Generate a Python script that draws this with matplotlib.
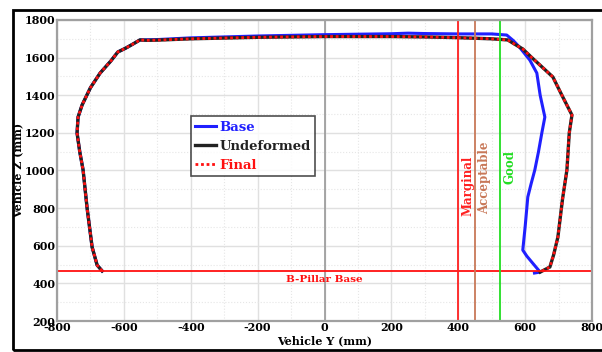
import matplotlib
matplotlib.use("Agg")
import matplotlib.pyplot as plt
from matplotlib.patches import Rectangle
from matplotlib.ticker import MultipleLocator

plt.rcParams['font.family'] = ['DejaVu Serif']
plt.rcParams['font.weight'] = 'bold'
plt.rcParams['axes.labelweight'] = 'bold'
plt.rcParams['axes.unicode_minus'] = False

# roof / pillar profile, undeformed
undeformed_y = [-665, -680, -695, -710, -722, -732, -740, -737, -725, -700, -671, -640, -618, -595,
                -575, -552, -530, -500, -400, -200, 0, 200, 300, 400, 500, 548, 570, 593, 620, 644,
                683, 710, 740, 732, 725, 712, 698, 685, 674, 645]
undeformed_z = [466, 497, 593, 800, 1003, 1100, 1199, 1284, 1348, 1440, 1518, 1580, 1630, 1650,
                1670, 1694, 1692, 1693, 1700, 1708, 1712, 1712, 1710, 1706, 1700, 1694, 1670, 1646, 1600, 1561,
                1497, 1400, 1295, 1200, 1003, 850, 646, 550, 487, 460]

# final overlaps undeformed
final_y = [-665, -680, -695, -710, -722, -732, -740, -737, -725, -700, -671, -640, -618, -595,
           -575, -552, -530, -500, -400, -200, 0, 200, 300, 400, 500, 548, 570, 593, 620, 644,
           683, 710, 740, 732, 725, 712, 698, 685, 674, 645]
final_z = [466, 497, 593, 800, 1003, 1100, 1199, 1284, 1348, 1440, 1518, 1580, 1630, 1650,
           1670, 1694, 1692, 1693, 1700, 1708, 1712, 1712, 1710, 1706, 1700, 1694, 1670, 1646, 1600, 1561,
           1497, 1400, 1295, 1200, 1003, 850, 646, 550, 487, 460]

base_y = [-665, -680, -695, -710, -722, -732, -740, -737, -725, -700, -671, -640, -618, -595,
          -575, -552, -500, -400, -200, 0, 200, 250, 300, 400, 500, 545, 565, 583, 614, 635,
          645, 659, 650, 640, 629, 618, 608, 600, 593, 605, 620, 645, 628]
base_z = [466, 497, 593, 800, 1003, 1100, 1199, 1284, 1348, 1440, 1518, 1580, 1630, 1650,
          1670, 1694, 1696, 1705, 1715, 1722, 1727, 1730, 1728, 1726, 1726, 1720, 1690, 1656, 1587, 1518,
          1400, 1284, 1200, 1100, 1003, 930, 859, 700, 577, 545, 513, 460, 455]

rating_names = ['Marginal', 'Acceptable', 'Good']
rating_y = [400, 450, 525]
rating_colors = ['#ff2020', '#c87858', '#22dd22']
rating_text_z = [920, 960, 1020]
pillar_base_z = 465

fig = plt.figure(figsize=(6.02, 3.52), dpi=100)
ax = fig.add_axes([57/602, 1 - 321/352, 535/602, 301/352])

ax.set_xlim(-800, 800)
ax.set_ylim(200, 1800)
ax.xaxis.set_major_locator(MultipleLocator(200))
ax.yaxis.set_major_locator(MultipleLocator(200))
ax.xaxis.set_minor_locator(MultipleLocator(100))
ax.yaxis.set_minor_locator(MultipleLocator(100))
ax.grid(which='major', color='#e0e0e0', lw=1)
ax.grid(which='minor', color='#e6e6e6', lw=0.8, ls=':')
ax.set_axisbelow(True)
ax.tick_params(which='both', length=0, labelsize=8, pad=1)
for lab in ax.get_xticklabels() + ax.get_yticklabels():
    lab.set_fontweight('bold')
for s in ax.spines.values():
    s.set_color('#a0a0a0')
    s.set_linewidth(1.6)

ax.axvline(0, color='#999999', lw=1.2)

ax.plot(base_y, base_z, color='#2020ff', lw=2.2, label='Base')
ax.plot(undeformed_y, undeformed_z, color='#222222', lw=2.4, label='Undeformed')
ax.plot(final_y, final_z, color='#ff1010', lw=2.0, ls=(0, (1, 1)), label='Final')

ax.axhline(pillar_base_z, color='#ff1010', lw=1.3)
ax.text(0, pillar_base_z - 22, 'B-Pillar Base', color='#ff1010', fontsize=7.5,
        ha='center', va='top', fontweight='bold')

for name, yv, c, tz in zip(rating_names, rating_y, rating_colors, rating_text_z):
    ax.axvline(yv, color=c, lw=1.3)
    ax.text(yv + 10, tz, name, color=c, fontsize=8.5, rotation=90,
            ha='left', va='center', fontweight='bold')

leg = ax.legend(loc='upper left', bbox_to_anchor=(0.25, 0.681), fontsize=9.5,
                frameon=True, fancybox=False, handlelength=1.6, handletextpad=0.2,
                borderpad=0.35, labelspacing=0.45, borderaxespad=0)
leg.get_frame().set_edgecolor('#222222')
leg.get_frame().set_linewidth(1.2)
for t, c in zip(leg.get_texts(), ['#2020ff', '#222222', '#ff1010']):
    t.set_color(c)
    t.set_fontweight('bold')

ax.set_xlabel('Vehicle Y (mm)', fontsize=8, labelpad=1, fontweight='bold')
ax.set_ylabel('Vehicle Z (mm)', fontsize=8, labelpad=1, fontweight='bold')

fig.patches.append(Rectangle((13/602, 2/352), 1.2, 340/352, transform=fig.transFigure,
                             fill=False, edgecolor='black', lw=2, clip_on=False))

fig.savefig('out.png', dpi=100)
